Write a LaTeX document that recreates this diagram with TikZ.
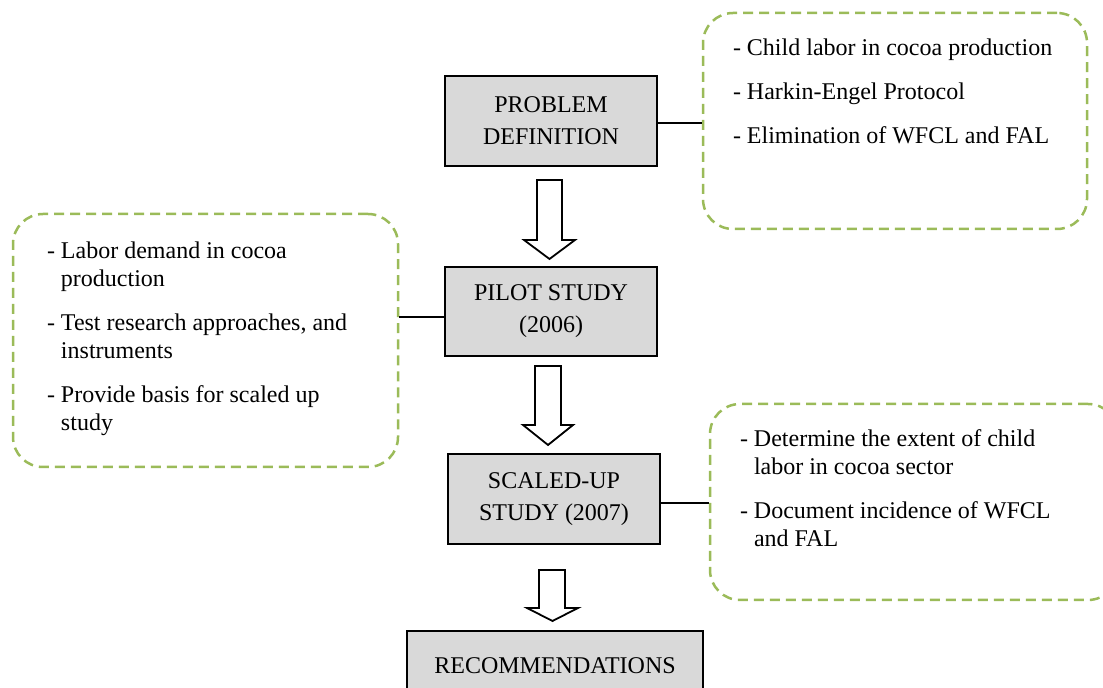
\documentclass[tikz,border=0pt]{standalone}
\usepackage{fontspec}
\setmainfont{Liberation Serif}
\usetikzlibrary{calc}
\definecolor{notegreen}{HTML}{9BBB59}
\tikzset{stage/.style={draw,line width=2pt,fill=black!15,minimum width=212pt,minimum height=90pt,align=center,font=\fontsize{24}{32}\selectfont},
  note/.style={draw=notegreen,line width=2.5pt,dash pattern=on 10pt off 6pt,rounded corners=30pt,inner sep=0pt,font=\fontsize{24}{28}\selectfont},
  hollow/.style={draw,line width=1.8pt,fill=white,line join=miter},
  link/.style={line width=1.3pt}}

\begin{document}
\begin{tikzpicture}[x=1pt,y=1pt]
        \useasboundingbox (0,0) rectangle (1103,688);
        % stages
        \node[stage] (prob) at (551,567) {PROBLEM\\DEFINITION};
        \node[stage,minimum height=89pt] (pilot) at (551,376.5) {PILOT STUDY\\(2006)};
        \node[stage] (scaled) at (554,189) {SCALED-UP\\STUDY (2007)};
        \node[stage,anchor=north,minimum width=296pt,inner sep=0pt,text height=36pt,text depth=40pt] (recom) at (555,58) {RECOMMENDATIONS};
        % notes
        \node[note] (probnote) at (895,567) {\parbox[c][216pt][t]{384pt}{\vspace*{26pt}\leftskip=30pt
            -\ Child labor in cocoa production\\[16pt]
            -\ Harkin-Engel Protocol\\[16pt]
            -\ Elimination of WFCL and FAL}};
        \node[note] (pilotnote) at (205.5,347.5) {\parbox[c][253pt][t]{385pt}{\vspace*{27.5pt}\leftskip=34pt
            -\ Labor demand in cocoa\\\phantom{-\ }production\\[16pt]
            -\ Test research approaches, and\\\phantom{-\ }instruments\\[16pt]
            -\ Provide basis for scaled up\\\phantom{-\ }study}};
        \node[note] (scalednote) at (914,186) {\parbox[c][196pt][t]{408pt}{\vspace*{26pt}\leftskip=30pt
            -\ Determine the extent of child\\\phantom{-\ }labor in cocoa sector\\[16pt]
            -\ Document incidence of WFCL\\\phantom{-\ }and FAL}};
        % links
        \draw[link] ([yshift=-2pt]prob.east) -- ([yshift=-2pt]prob.east -| probnote.west);
        \draw[link] ([yshift=-5.5pt]pilot.west) -- ([yshift=-5.5pt]pilot.west -| pilotnote.east);
        \draw[link] ([yshift=-4pt]scaled.east) -- ([yshift=-4pt]scaled.east -| scalednote.west);
        % arrows
        \draw[hollow] ($(prob.south)+(-14,-13)$) -- ++(0,-60) -- ++(-13,0) -- ++(25.5,-19) -- ++(25.5,19) -- ++(-13,0) -- ++(0,60) -- cycle;
        \draw[hollow] ($(pilot.south)+(-16,-9)$) -- ++(0,-59) -- ++(-12,0) -- ++(25,-20) -- ++(25,20) -- ++(-12,0) -- ++(0,59) -- cycle;
        \draw[hollow] ($(scaled.south)+(-15,-25)$) -- ++(0,-38) -- ++(-12,0) -- ++(25.5,-13) -- ++(25.5,13) -- ++(-13,0) -- ++(0,38) -- cycle;
    \end{tikzpicture}
\end{document}
